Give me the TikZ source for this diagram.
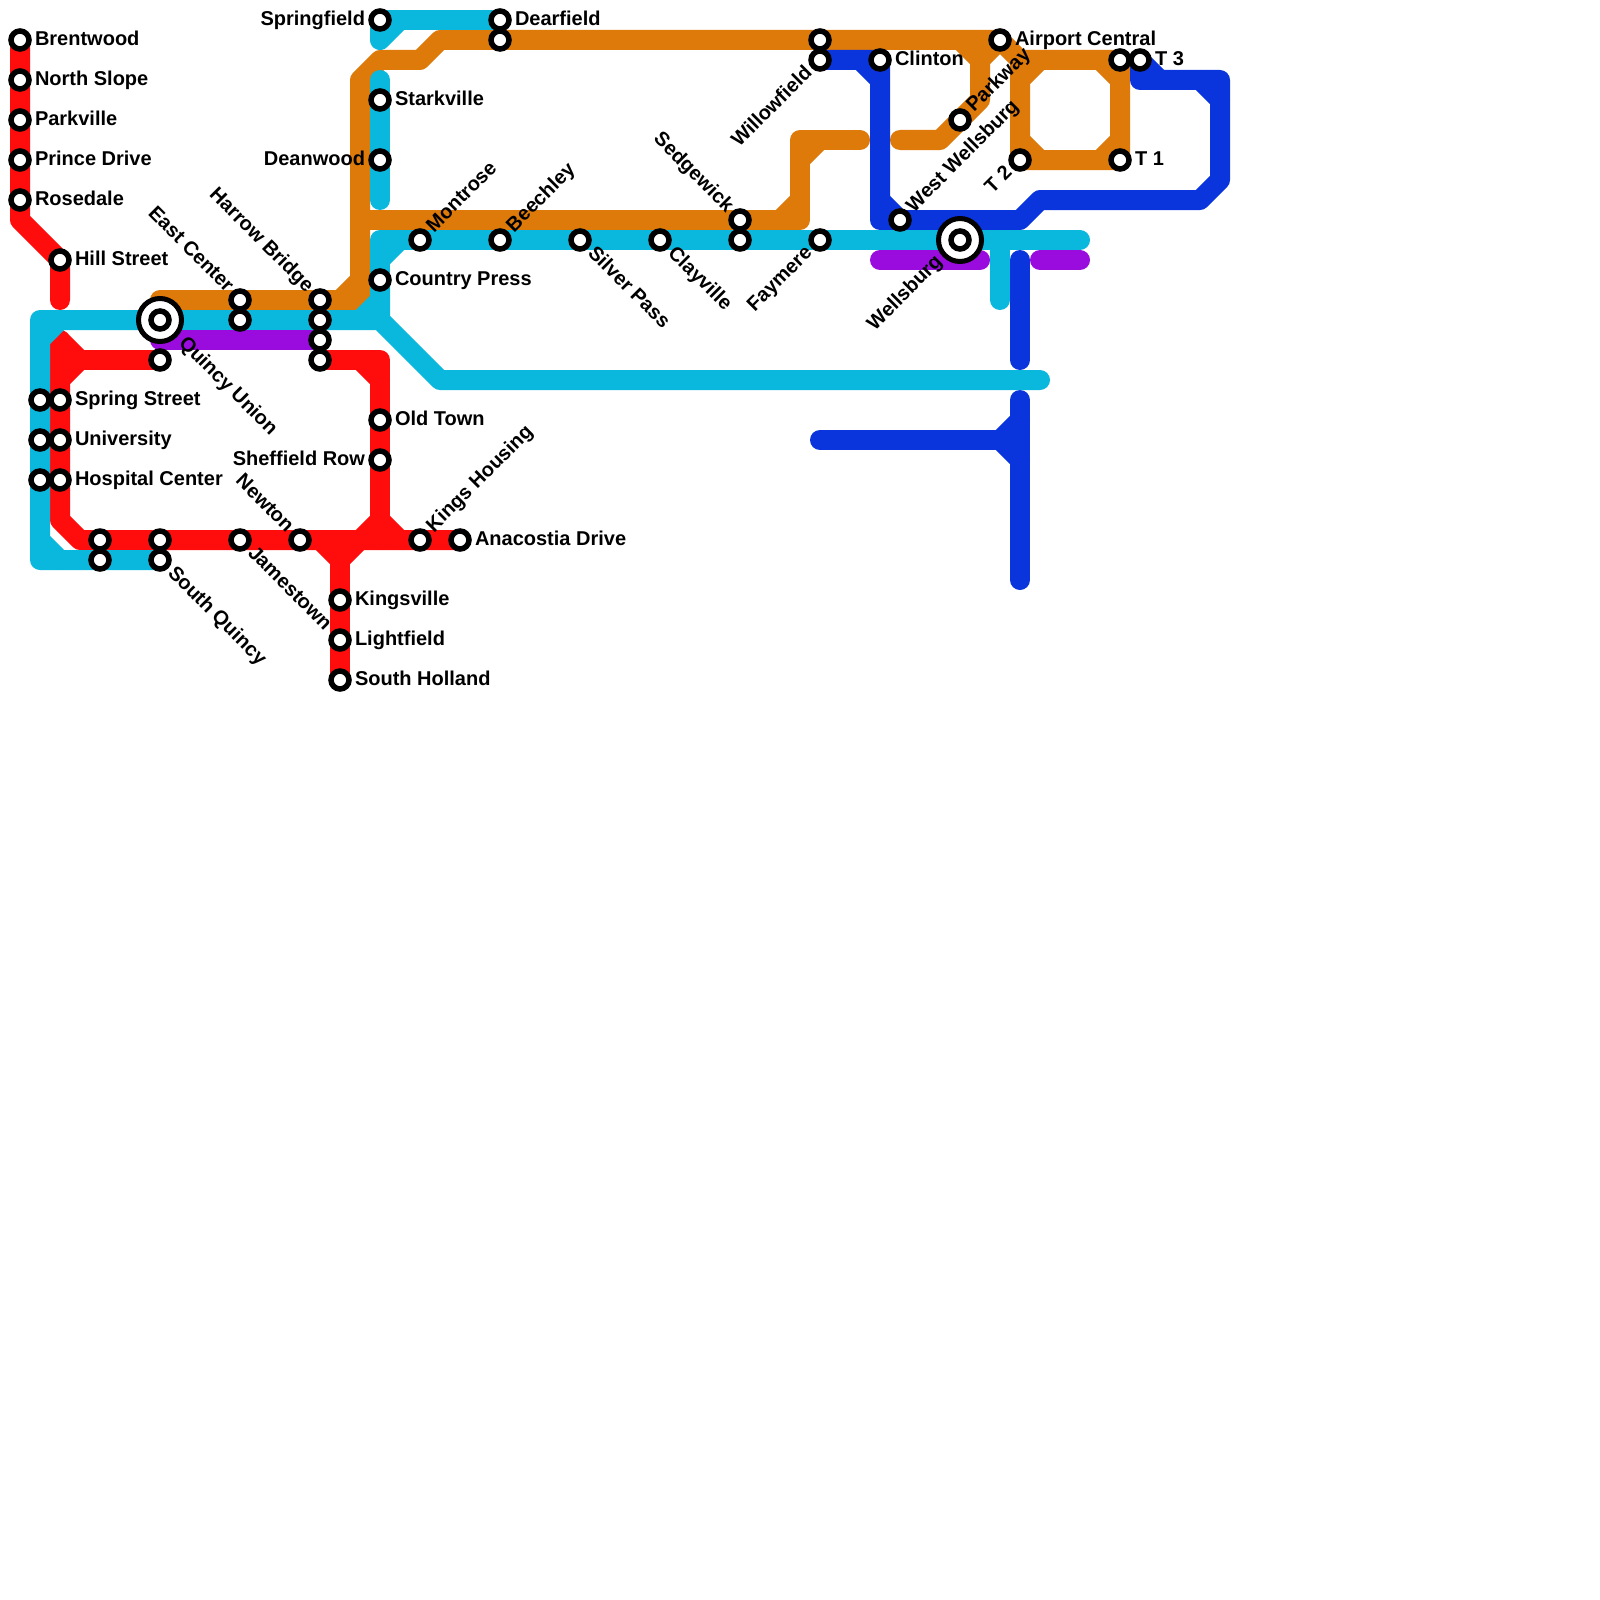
\documentclass[tikz,border=0pt]{standalone}
\usepackage{fontspec}
\setmainfont{Liberation Sans}
\usetikzlibrary{backgrounds}
\definecolor{lred}{HTML}{FF0C0C}
\definecolor{lcyan}{HTML}{0BB8DD}
\definecolor{lorange}{HTML}{DD7A0A}
\definecolor{lblue}{HTML}{0A35DD}
\definecolor{lpurple}{HTML}{9A0BDD}
\tikzset{
  x=1pt,y=-1pt,
  metro/.style={line width=20pt,line cap=round,line join=round},
  redline/.style={metro,draw=lred},
  cyanline/.style={metro,draw=lcyan},
  orangeline/.style={metro,draw=lorange},
  blueline/.style={metro,draw=lblue},
  purpleline/.style={metro,draw=lpurple},
  halt/.style={circle,draw=black,fill=white,line width=5.5pt,minimum size=18pt,inner sep=0pt,outer sep=0pt},
  hub/.style={circle,draw=black,fill=white,line width=5pt,minimum size=43pt,inner sep=0pt,outer sep=0pt},
  lab/.style={font=\fontsize{20}{20}\bfseries\selectfont,text=black,inner sep=0pt,outer sep=0pt},
  labE/.style={lab,anchor=base west,xshift=15pt,yshift=-5.5pt},
  labW/.style={lab,anchor=base east,xshift=-15pt,yshift=-5.5pt},
  labNE/.style={lab,xshift=14pt,yshift=7pt,rotate=45,anchor=base west},
  labSE/.style={lab,xshift=7pt,yshift=-14pt,rotate=-45,anchor=base west},
  labNW/.style={lab,xshift=-14pt,yshift=7pt,rotate=-45,anchor=base east},
  labSW/.style={lab,xshift=-7pt,yshift=-14pt,rotate=45,anchor=base east}
}
% name, x, y, label style, label text
\newcommand{\stn}[5]{\node[halt] (#1) at (#2,#3) {}; \node[#4] (#1-l) at (#2,#3) {#5};}
\newcommand{\stp}[3]{\node[halt] (#1) at (#2,#3) {};}
\begin{document}
\begin{tikzpicture}
\useasboundingbox (0,0) rectangle (1600,1600);
% stations
\stn{brentwood}{20}{40}{labE}{Brentwood}
\stn{northslope}{20}{80}{labE}{North Slope}
\stn{parkville}{20}{120}{labE}{Parkville}
\stn{prince}{20}{160}{labE}{Prince Drive}
\stn{rosedale}{20}{200}{labE}{Rosedale}
\stn{hill}{60}{260}{labE}{Hill Street}
\stp{springcy}{40}{400}
\stp{univcy}{40}{440}
\stp{hospcy}{40}{480}
\stn{spring}{60}{400}{labE}{Spring Street}
\stn{univ}{60}{440}{labE}{University}
\stn{hosp}{60}{480}{labE}{Hospital Center}
\stp{sw1}{100}{540}
\stp{sw2}{100}{560}
\stp{sq1}{160}{540}
\stn{squincy}{160}{560}{labSE}{South Quincy}
\stn{jamestown}{240}{540}{labSE}{Jamestown}
\stn{newton}{300}{540}{labNW}{Newton}
\stn{kings}{420}{540}{labNE}{Kings Housing}
\stn{anacostia}{460}{540}{labE}{Anacostia Drive}
\stn{kingsville}{340}{600}{labE}{Kingsville}
\stn{lightfield}{340}{640}{labE}{Lightfield}
\stn{sholland}{340}{680}{labE}{South Holland}
\stn{oldtown}{380}{420}{labE}{Old Town}
\stn{sheffield}{380}{460}{labW}{Sheffield Row}
\stp{qured}{160}{360}
\node[hub] (quincy) at (160,320) {};
\node[halt] (quincyc) at (160,320) {};
\node[lab,xshift=18pt,yshift=-24pt,rotate=-45,anchor=base west] (quincy-l) at (160,320) {Quincy Union};
\stn{east1}{240}{300}{labNW}{East Center}
\stp{east2}{240}{320}
\stn{harrow1}{320}{300}{labNW}{Harrow Bridge}
\stp{harrow2}{320}{320}
\stp{harrow3}{320}{340}
\stp{harrow4}{320}{360}
\stn{springfield}{380}{20}{labW}{Springfield}
\stn{dearfield}{500}{20}{labE}{Dearfield}
\stp{dearor}{500}{40}
\stn{starkville}{380}{100}{labE}{Starkville}
\stn{deanwood}{380}{160}{labW}{Deanwood}
\stn{country}{380}{280}{labE}{Country Press}
\stn{montrose}{420}{240}{labNE}{Montrose}
\stn{beechley}{500}{240}{labNE}{Beechley}
\stn{silver}{580}{240}{labSE}{Silver Pass}
\stn{clayville}{660}{240}{labSE}{Clayville}
\stn{sedge1}{740}{220}{labNW}{Sedgewick}
\stp{sedge2}{740}{240}
\stn{faymere}{820}{240}{labSW}{Faymere}
\stp{will1}{820}{40}
\stn{will2}{820}{60}{labSW}{Willowfield}
\stn{clinton}{880}{60}{labE}{Clinton}
\stn{westw}{900}{220}{labNE}{West Wellsburg}
\node[hub] (wellsburg) at (960,240) {};
\node[halt] (wellsburgc) at (960,240) {};
\node[lab,xshift=-17pt,yshift=-23pt,rotate=45,anchor=base east] (wellsburg-l) at (960,240) {Wellsburg};
\stn{parkway}{960}{120}{labNE}{Parkway}
\stn{airport}{1000}{40}{labE}{Airport Central}
\stp{t1top}{1120}{60}
\stn{t3}{1140}{60}{labE}{T 3}
\stn{t1}{1120}{160}{labE}{T 1}
\stn{t2}{1020}{160}{labSW}{T 2}
% lines, beneath the stations
\begin{pgfonlayer}{background}
\draw[orangeline] (160,300) -- (harrow1.center) -- (360,300) -- (360,80) -- (380,60) -- (420,60) -- (440,40) -- (dearor.center) -- (will1.center) -- (airport.center) -- (1020,60) -- (t1top.center) -- (t1.center) -- (t2.center) -- (1020,60);
\draw[orangeline] (340,300) -- (360,280);
\draw[orangeline] (1020,80) -- (1040,60) (1100,60) -- (1120,80) (1100,160) -- (1120,140) (1020,140) -- (1040,160);
\draw[orangeline] (360,220) -- (sedge1.center) -- (800,220) -- (800,140) -- (860,140);
\draw[orangeline] (780,220) -- (800,200) (800,160) -- (820,140);
\draw[orangeline] (900,140) -- (940,140) -- (parkway.center) -- (980,100) -- (980,40);
\draw[orangeline] (960,40) -- (980,60) -- (airport.center);
\draw[blueline] (will2.center) -- (clinton.center) -- (880,220) -- (westw.center) -- (1020,220) -- (1040,200) -- (1200,200) -- (1220,180) -- (1220,80) -- (1140,80) -- (t3.center);
\draw[blueline] (860,60) -- (880,80) (880,200) -- (westw.center) (t3.center) -- (1160,80) (1200,80) -- (1220,100);
\draw[blueline] (1020,400) -- (1020,580);
\draw[blueline] (820,440) -- (1020,440);
\draw[blueline] (1020,420) -- (1000,440) -- (1020,460);
\draw[redline] (brentwood.center) -- (northslope.center) -- (parkville.center) -- (prince.center) -- (rosedale.center) -- (20,220) -- (hill.center) -- (60,300);
\draw[redline] (60,340) -- (spring.center) -- (univ.center) -- (hosp.center) -- (60,520) -- (80,540) -- (anacostia.center);
\draw[redline] (60,360) -- (qured.center);
\draw[redline] (60,340) -- (80,360) -- (60,380);
\draw[redline] (harrow4.center) -- (380,360) -- (oldtown.center) -- (sheffield.center) -- (380,540);
\draw[redline] (360,360) -- (380,380);
\draw[redline] (360,540) -- (380,520) -- (400,540);
\draw[redline] (340,540) -- (kingsville.center) -- (lightfield.center) -- (sholland.center);
\draw[redline] (320,540) -- (340,560) -- (360,540);
\draw[cyanline] (squincy.center) -- (40,560) -- (40,320) -- (quincy.center) -- (380,320) -- (440,380) -- (1040,380);
\draw[cyanline] (40,340) -- (60,320) (40,540) -- (60,560);
\draw[cyanline] (country.center) -- (380,320) (360,320) -- (380,300);
\draw[cyanline] (country.center) -- (380,240) -- (montrose.center) -- (wellsburg.center) -- (1080,240);
\draw[cyanline] (380,260) -- (400,240);
\draw[cyanline] (1000,240) -- (1000,300);
\draw[cyanline] (springfield.center) -- (dearfield.center);
\draw[cyanline] (springfield.center) -- (380,40) -- (400,20);
\draw[cyanline] (380,80) -- (starkville.center) -- (deanwood.center) -- (380,200);
\draw[purpleline] (160,340) -- (harrow3.center);
\draw[purpleline] (880,260) -- (980,260);
\draw[purpleline] (1040,260) -- (1080,260);
\draw[blueline] (1020,260) -- (1020,360);
\end{pgfonlayer}
\end{tikzpicture}
\end{document}
